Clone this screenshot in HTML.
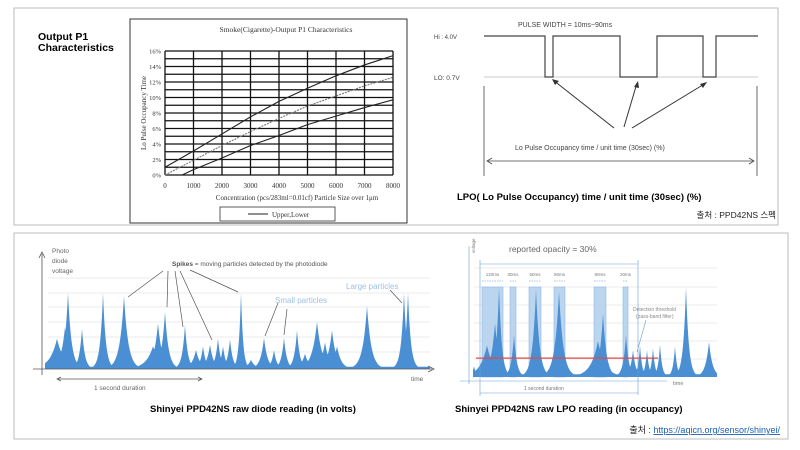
<!DOCTYPE html>
<html><head><meta charset="utf-8">
<style>
html,body{margin:0;padding:0;background:#fff;}
svg{display:block;font-family:"Liberation Sans","Noto Sans CJK KR",sans-serif;}
.serif{font-family:"Liberation Serif",serif;}
</style></head>
<body>
<svg id="s" width="800" height="450" viewBox="0 0 800 450">
  <rect x="14" y="8" width="764" height="217" fill="#fff" stroke="#bbb" stroke-width="1"/>
  <rect x="14" y="233" width="774" height="206" fill="#fff" stroke="#bbb" stroke-width="1"/>
  <text x="38" y="40" font-size="10.5" font-weight="bold">Output P1</text>
  <text x="38" y="51" font-size="10.5" font-weight="bold">Characteristics</text>
  <g id="c1">
    <rect x="130" y="19" width="277" height="204" fill="#fff" stroke="#333" stroke-width="1"/>
    <text class="serif" x="286" y="32" font-size="7.5" text-anchor="middle" fill="#333">Smoke(Cigarette)-Output P1 Characteristics</text>
    <text class="serif" x="146" y="113" font-size="7" text-anchor="middle" fill="#333" transform="rotate(-90 146 113)">Lo Pulse Occupancy Time</text>
    <text class="serif" x="297" y="200" font-size="7" text-anchor="middle" fill="#333">Concentration (pcs/283ml=0.01cf)  Particle Size over 1μm</text>
    <rect x="220" y="207" width="115" height="14" fill="#fff" stroke="#333" stroke-width="0.8"/>
    <line x1="248" y1="214" x2="268" y2="214" stroke="#222" stroke-width="1"/>
    <text class="serif" x="272" y="217" font-size="7" fill="#333">Upper,Lower</text>
  </g>
  <g id="c2">
    <text x="434" y="39" font-size="6" fill="#444">Hi : 4.0V</text>
    <text x="434" y="80" font-size="6.5" fill="#444">LO: 0.7V</text>
    <text x="518" y="27" font-size="7" fill="#444">PULSE WIDTH = 10ms~90ms</text>
    <line x1="484" y1="77" x2="758" y2="77" stroke="#bbb" stroke-width="0.8"/>
    <polyline points="484,36 545,36 545,77 553,77 553,36 620,36 620,77 657,77 657,36 703,36 703,77 716,77 716,36 758,36" fill="none" stroke="#444" stroke-width="1.2"/>
    <line x1="484" y1="86" x2="484" y2="176" stroke="#444" stroke-width="0.8"/>
    <line x1="757" y1="86" x2="757" y2="176" stroke="#444" stroke-width="0.8"/>
    <line x1="488" y1="161" x2="753" y2="161" stroke="#444" stroke-width="0.8"/>
    <polyline points="492,158 487,161 492,164" fill="none" stroke="#444" stroke-width="0.8"/>
    <polyline points="749,158 754,161 749,164" fill="none" stroke="#444" stroke-width="0.8"/>
    <line x1="614" y1="128" x2="553" y2="80" stroke="#333" stroke-width="1"/>
    <line x1="624" y1="127" x2="637" y2="83" stroke="#333" stroke-width="1"/>
    <line x1="632" y1="128" x2="706" y2="83" stroke="#333" stroke-width="1"/>
    <polygon points="552,79 559,81 555,85" fill="#333"/>
    <polygon points="638,81 639,88 634,87" fill="#333"/>
    <polygon points="707,82 703,88 700,84" fill="#333"/>
    <text x="515" y="150" font-size="7" fill="#444">Lo Pulse Occupancy time / unit time (30sec) (%)</text>
    <text x="457" y="200" font-size="9.5" font-weight="bold">LPO( Lo Pulse Occupancy) time / unit time (30sec) (%)</text>
    <text x="776" y="218" font-size="8.5" text-anchor="end" fill="#222">출처 : PPD42NS 스펙</text>
  </g>
  <g id="c3">
    <text x="52" y="253" font-size="6.5" fill="#666">Photo</text>
    <text x="52" y="263" font-size="6.5" fill="#666">diode</text>
    <text x="52" y="273" font-size="6.5" fill="#666">voltage</text>
    <text x="172" y="266" font-size="6.5" fill="#555"><tspan font-weight="bold">Spikes</tspan> = moving particles detected by the photodiode</text>
    <text x="346" y="289" font-size="8" fill="#9cc0e6">Large particles</text>
    <text x="275" y="303" font-size="8" fill="#9cc0e6">Small particles</text>
    <text x="411" y="381" font-size="6.5" fill="#666">time</text>
    <text x="94" y="390" font-size="6.5" fill="#666">1 second duration</text>
    <text x="150" y="412" font-size="9.5" font-weight="bold">Shinyei PPD42NS raw diode reading (in volts)</text>
  </g>
  <g id="c4">
    <text x="509" y="252" font-size="8.5" fill="#666">reported opacity = 30%</text>
    <text x="633" y="311" font-size="5" fill="#888">Detection threshold</text>
    <text x="636" y="318" font-size="5" fill="#888">(pass-band filter)</text>
    <text x="673" y="385" font-size="5.5" fill="#777">time</text>
    <text x="524" y="390" font-size="5" fill="#777">1 second duration</text>
    <text x="455" y="412" font-size="9.5" font-weight="bold">Shinyei PPD42NS raw LPO reading (in occupancy)</text>
    <text x="780" y="433" font-size="9" text-anchor="end" fill="#222">출처 : <tspan fill="#1a5fb4" text-decoration="underline">https://aqicn.org/sensor/shinyei/</tspan></text>
  </g>
</svg>
<script>
// Chart 1 data
const c1X = [0,1000,2000,3000,4000,5000,6000,7000,8000];
const c1Upper = [1.0,3.1,5.3,7.5,9.5,11.2,12.8,14.2,15.4];
const c1Mid = [0,1.9,3.8,5.6,7.3,8.9,10.2,11.5,12.6];
const c1LowerX = [600,1000,2000,3000,4000,5000,6000,7000,8000];
const c1Lower = [0,0.7,2.2,3.8,5.1,6.5,7.6,8.7,9.7];
const c1YTicks = ["0%","2%","4%","6%","8%","10%","12%","14%","16%"];
const c1XTicks = ["0","1000","2000","3000","4000","5000","6000","7000","8000"];
// Chart 3 data: time positions (0..385), peak heights (fraction), widths
const diodePeakT = [2,12,20,23,37,58,79,108,113,120,140,151,158,165,173,178,185,196,206,219,229,239,252,260,272,280,287,292,322,359,363];
const diodePeakV = [0.1,0.4,0.55,1.0,0.53,1.0,0.96,0.3,0.6,0.75,0.58,0.25,0.3,0.32,0.4,0.3,0.39,1.0,0.12,0.41,0.25,0.41,0.51,0.2,0.62,0.35,0.51,0.3,0.83,1.0,1.0];
const diodePeakW = [3,10,6,5,4,4,6,10,6,5,4,6,4,5,4,4,4,3,6,5,4,4,4,6,7,6,6,6,6,4,4];
// Chart 4 data: time positions (0..244)
const lpoPeakT = [1,14,22,26,41,63,86,125,130,153,160,167,174,180,187,202,213,236];
const lpoPeakV = [0.12,0.35,0.6,1.0,0.47,0.97,0.95,0.4,0.71,0.47,0.3,0.35,0.3,0.32,0.36,0.34,1.0,0.39];
const lpoPeakW = [3,10,6,4,4,5,6,10,5,4,4,3,3,3,3,3,4,5];
const lpoBoxStart = [9,37,56,81,121,150];
const lpoBoxEnd = [30,43,68,92,133,155];
const lpoBoxLabels = ["120ms","30ms","50ms","50ms","80ms","20ms"];
const lpoThreshold = 0.21;

const NS='http://www.w3.org/2000/svg';
function mk(parent,tag,attrs){const e=document.createElementNS(NS,tag);for(const k in attrs)e.setAttribute(k,attrs[k]);parent.appendChild(e);return e;}

// ---- chart 1
(function(){
  const g=document.getElementById('c1');
  const x0=165,x1=393,y0=175,y1=51;
  const sx=v=>x0+(v/8000)*(x1-x0), sy=v=>y0-(v/16)*(y0-y1);
  for(let i=0;i<=16;i++){const l=mk(g,'line',{x1:x0,x2:x1,y1:sy(i),y2:sy(i),stroke:'#111','stroke-width':1.3});
    
    }
  c1XTicks.forEach((t,i)=>{const v=+t;const l=mk(g,'line',{x1:sx(v),x2:sx(v),y1:y0,y2:y1,stroke:'#111','stroke-width':1.3});
    
    
    const tx=mk(g,'text',{x:sx(v),y:y0+13,'font-size':7,'text-anchor':'middle',fill:'#333',class:'serif'});tx.textContent=t;
    
    });
  c1YTicks.forEach((t,i)=>{const tx=mk(g,'text',{x:x0-4,y:sy(i*2)+2.5,'font-size':6.5,'text-anchor':'end',fill:'#333',class:'serif'});tx.textContent=t;
    
    });
  function line(xs,ys,name,dash,col){const p=mk(g,'polyline',{points:xs.map((x,i)=>sx(x)+','+sy(ys[i])).join(' '),fill:'none',stroke:col,'stroke-width':1.1});
    if(dash)p.setAttribute('stroke-dasharray',dash);
    
    }
  line(c1X,c1Upper,'upper-line',null,'#222');
  line(c1X,c1Mid,'typical-line','2 1','#777');
  line(c1LowerX,c1Lower,'lower-line',null,'#222');
})();

function areaPath(T,V,W,x0,x1,base,top){
  const pts=[];
  for(let px=x0;px<=x1;px+=0.5){const t=px-x0;let v=0.03;
    for(let i=0;i<T.length;i++){const d=Math.abs(t-T[i])/W[i];v=Math.max(v,V[i]*Math.exp(-d*1.4));}
    v=Math.min(v,1);pts.push(px.toFixed(1)+','+(base-v*(base-top)).toFixed(1));}
  return 'M'+x0+','+base+' L'+pts.join(' L')+' L'+x1+','+base+' Z';
}

// ---- chart 3
(function(){
  const g=document.getElementById('c3');
  const x0=45,x1=430,base=369,top=293;
  [278,293,307,322,337,352].forEach(y=>{const l=mk(g,'line',{x1:48,x2:430,y1:y,y2:y,stroke:'#e4e4e4','stroke-width':0.8});
    
    });
  const a=mk(g,'path',{d:areaPath(diodePeakT,diodePeakV,diodePeakW,x0,x1,base,top),fill:'#4a8fd3'});
  
  
  const ax=mk(g,'path',{d:'M33,369 L432,369 M42,254 L42,375 M39,258 L42,252 L45,258 M428,366 L434,369 L428,372',stroke:'#555','stroke-width':0.8,fill:'none'});
  
  
  const ar=mk(g,'path',{d:'M58,379 L201,379 M61,377 L57,379 L61,381 M198,377 L202,379 L198,381 M163,271 L128,297 M168,271 L167,307 M175,271 L183,327 M180,271 L212,340 M190,270 L238,292 M278,303 L265,336 M287,309 L284,335 M390,290 L402,303',stroke:'#555','stroke-width':0.7,fill:'none'});
  
  
})();

// ---- chart 4
(function(){
  const g=document.getElementById('c4');
  const x0=473,x1=717,base=377,top=287;
  const sx=t=>x0+t;
  [268,287,305,323,341,359].forEach(y=>{const l=mk(g,'line',{x1:474,x2:717,y1:y,y2:y,stroke:'#e4e4e4','stroke-width':0.8});
    
    });
  lpoBoxStart.forEach((s,i)=>{const bx=sx(s),bw=lpoBoxEnd[i]-s;
    const r=mk(g,'rect',{x:bx,y:287,width:bw,height:90,fill:'#bcd5ef',stroke:'#8db6e0','stroke-width':0.6});
    
    
    const t=mk(g,'text',{x:bx+bw/2,y:276,'font-size':4.5,'text-anchor':'middle',fill:'#777'});t.textContent=lpoBoxLabels[i];
    
    
    const l=mk(g,'line',{x1:bx,x2:bx+bw,y1:281,y2:281,stroke:'#4a8fd3','stroke-width':0.6,'stroke-dasharray':'1.5 1'});
    
    });
  const a=mk(g,'path',{d:areaPath(lpoPeakT,lpoPeakV,lpoPeakW,x0,x1,base,top),fill:'#4a8fd3'});
  
  
  const ty=base-lpoThreshold*(base-top);
  const th=mk(g,'line',{x1:476,x2:658,y1:ty,y2:ty,stroke:'#e24a4a','stroke-width':1.2});
  
  
  const ax=mk(g,'path',{d:'M460,381 L667,381 M469,246 L469,384 M480,264 L638,264 M480,393 L638,393 M638,260 L638,395 M480,260 L480,396 M646,320 L637,352',stroke:'#6a9fd8','stroke-width':0.6,fill:'none'});
  
  
  const vy=mk(g,'text',{x:475,y:253,'font-size':4.5,fill:'#777',transform:'rotate(-90 475 253)'});vy.textContent='voltage';
  
  
})();
</script>
</body></html>
